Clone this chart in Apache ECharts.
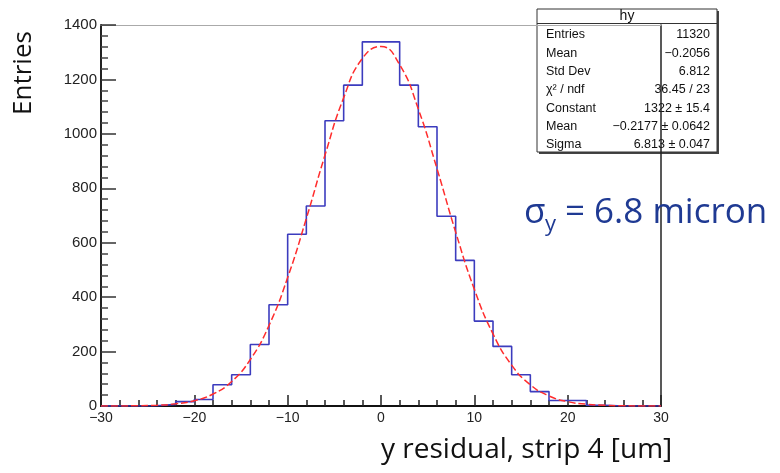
<!DOCTYPE html>
<html>
<head>
<meta charset="utf-8">
<script src="https://cdn.jsdelivr.net/npm/echarts@6/dist/echarts.min.js"></script>
<style>
html,body{margin:0;padding:0;background:#fff;}
#chart{width:780px;height:473px;}
</style>
</head>
<body>
<div id="chart"></div>
<script>
// histogram: lower bin edges (width 2) and bin contents
const binLow = [-30,-28,-26,-24,-22,-20,-18,-16,-14,-12,-10,-8,-6,-4,-2,0,2,4,6,8,10,12,14,16,18,20,22,24,26,28];
const binCount = [0,0,1,6,16,24,78,115,226,372,631,735,1048,1179,1338,1338,1179,1026,697,535,312,219,115,53,20,20,3,0,0,0];
// red fit curve, read along x
const fitX = [-30,-28,-26,-24,-22,-20,-18,-16,-14,-12,-10,-8,-6,-4,-2,0,2,4,6,8,10,12,14,16,18,20,22,24,26,28,30];
const fitY = [0.1,0.3,1,3,8,19.5,44,90,171,296,472,689,922,1133,1277,1321,1254,1091,872,639,429,265,150,78,37,16,6.5,2.4,0.8,0.3,0.1];
// stats box
const statTitle = 'hy';
const statNames = ['Entries','Mean','Std Dev','χ² / ndf','Constant','Mean','Sigma'];
const statValues = ['11320','−0.2056','6.812','36.45 / 23','1322 ± 15.4','−0.2177 ± 0.0642','6.813 ± 0.047'];

const chart = echarts.init(document.getElementById('chart'));

const histData = binLow.map((x, i) => [x, binCount[i]]);
histData.push([30, binCount[binCount.length - 1]]);
const fitData = fitX.map((x, i) => [x, fitY[i]]);

const minus = v => String(v).replace('-', '−');

// stats box elements
const boxL = 537, boxR = 717, boxT = 9, boxB = 152;
const statEls = [
  {type: 'rect', shape: {x: boxL + 2, y: boxT + 2, width: boxR - boxL, height: boxB - boxT}, style: {fill: '#444'}},
  {type: 'rect', shape: {x: boxL, y: boxT, width: boxR - boxL, height: boxB - boxT}, style: {fill: '#fff', stroke: '#333', lineWidth: 1}},
  {type: 'line', shape: {x1: boxL, y1: 23.5, x2: boxR, y2: 23.5}, style: {stroke: '#333', lineWidth: 1}},
  {type: 'text', x: (boxL + boxR) / 2, y: 16, style: {text: statTitle, fill: '#111', font: '14px "Liberation Sans"', align: 'center', verticalAlign: 'middle'}}
];
statNames.forEach((n, i) => {
  const y = 35 + i * 18.3;
  statEls.push({type: 'text', x: 546, y: y, style: {text: n, fill: '#111', font: '12.5px "Liberation Sans"', align: 'left', verticalAlign: 'middle'}});
  statEls.push({type: 'text', x: 710, y: y, style: {text: statValues[i], fill: '#111', font: '12.5px "Liberation Sans"', align: 'right', verticalAlign: 'middle'}});
});

const option = {
  animation: false,
  backgroundColor: '#fff',
  grid: {left: 101, right: 119, top: 25, bottom: 67},
  xAxis: [
    {
      type: 'value', min: -30, max: 30, interval: 10, position: 'bottom',
      axisLine: {show: true, onZero: false, lineStyle: {color: '#111', width: 2}},
      axisTick: {show: true, inside: true, length: 11, lineStyle: {color: '#222', width: 1.5}},
      minorTick: {show: true, splitNumber: 5, length: 6, lineStyle: {color: '#222', width: 1.5}},
      splitLine: {show: false},
      axisLabel: {margin: 5, formatter: minus, fontSize: 14, color: '#222', fontFamily: 'Liberation Sans'}
    },
    {
      type: 'value', min: -30, max: 30, position: 'top',
      axisLine: {show: true, onZero: false, lineStyle: {color: '#aaa', width: 1}},
      axisTick: {show: false}, axisLabel: {show: false}, splitLine: {show: false}
    }
  ],
  yAxis: [
    {
      type: 'value', min: 0, max: 1400, interval: 200, position: 'left',
      axisLine: {show: true, onZero: false, lineStyle: {color: '#222', width: 2}},
      axisTick: {show: true, inside: true, length: 15, lineStyle: {color: '#333', width: 1.5}},
      minorTick: {show: true, splitNumber: 5, length: 7, lineStyle: {color: '#444', width: 1.5}},
      splitLine: {show: false},
      axisLabel: {margin: 4, formatter: v => String(v), fontSize: 15, color: '#222', fontFamily: 'Liberation Sans'}
    },
    {
      type: 'value', min: 0, max: 1400, position: 'right',
      axisLine: {show: true, onZero: false, lineStyle: {color: '#222', width: 1.5}},
      axisTick: {show: false}, axisLabel: {show: false}, splitLine: {show: false}
    }
  ],
  series: [
    {
      name: 'hy', type: 'line', step: 'end', symbol: 'none',
      data: histData,
      lineStyle: {color: '#3c3cbe', width: 1.6},
      z: 3
    },
    {
      name: 'fit', type: 'line', smooth: true, symbol: 'none',
      data: fitData,
      lineStyle: {color: '#ff2d2d', width: 1.5, type: [7, 3]},
      z: 4
    }
  ],
  graphic: [
    {type: 'group', z: 100, children: statEls},
    {type: 'text', x: 24, y: 73, rotation: Math.PI / 2, z: 100,
      style: {text: 'Entries', fill: '#111', font: '26px "Open Sans"', align: 'center', verticalAlign: 'middle'}},
    {type: 'text', x: 381, y: 450, z: 100,
      style: {text: 'y residual, strip 4 [um]', fill: '#111', font: '28px "Open Sans"', align: 'left', verticalAlign: 'middle'}},
    {type: 'text', x: 524, y: 213, z: 100,
      style: {text: 'σ', fill: '#1f3a93', font: '35px "Open Sans"', align: 'left', verticalAlign: 'middle'}},
    {type: 'text', x: 545, y: 225, z: 100,
      style: {text: 'y', fill: '#1f3a93', font: '22px "Open Sans"', align: 'left', verticalAlign: 'middle'}},
    {type: 'text', x: 565, y: 213, z: 100,
      style: {text: '= 6.8 micron', fill: '#1f3a93', font: '35px "Open Sans"', align: 'left', verticalAlign: 'middle'}}
  ]
};

chart.setOption(option);
</script>
</body>
</html>
